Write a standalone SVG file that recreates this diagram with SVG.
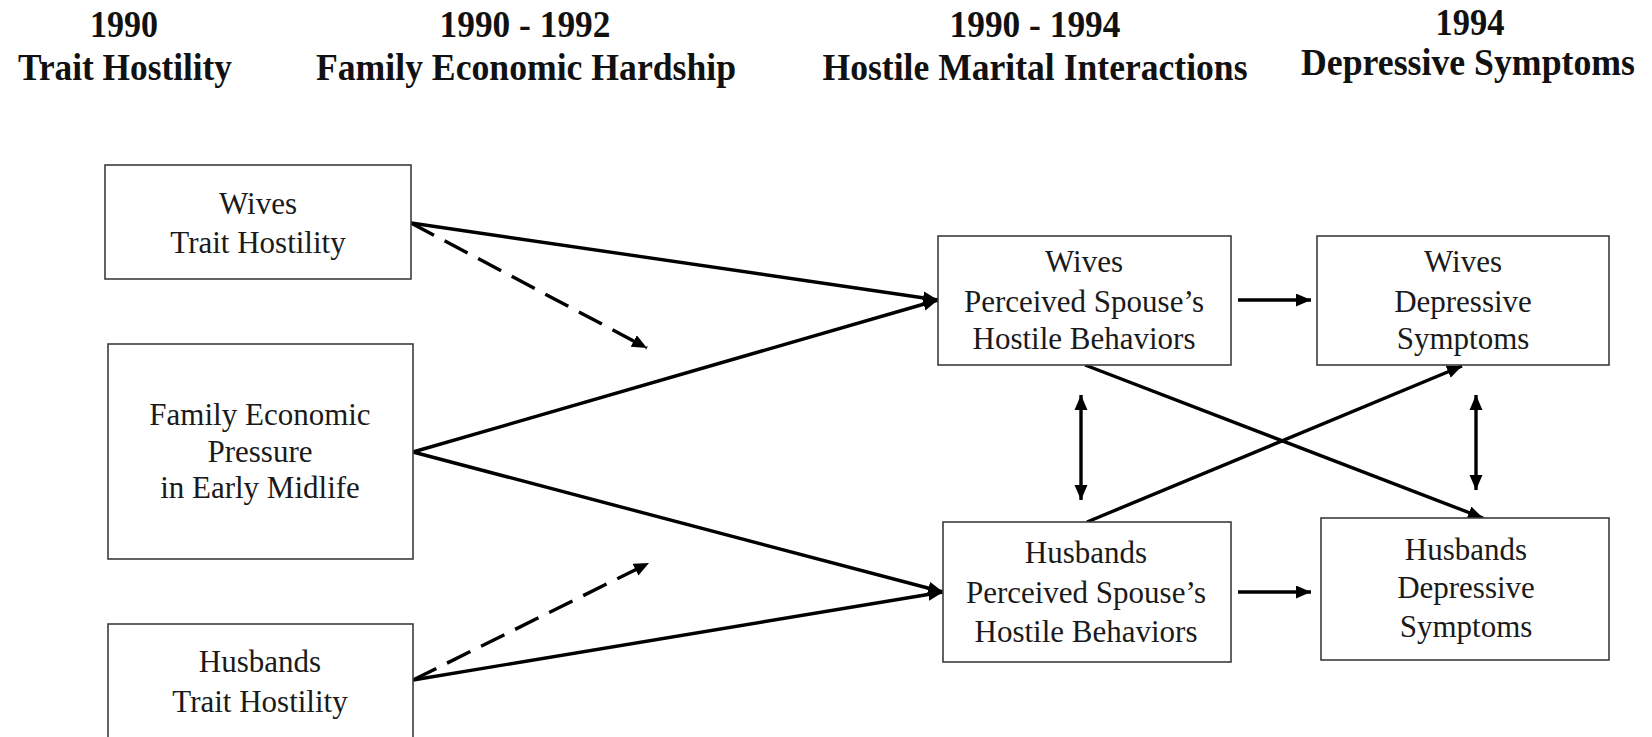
<svg xmlns="http://www.w3.org/2000/svg" width="1652" height="737" viewBox="0 0 1652 737">
  <style>
    .hdr { font-family: "Liberation Serif", "Times New Roman", serif; font-weight: bold; font-size: 37px; fill: #111; text-anchor: middle; }
    .lbl { font-family: "Liberation Serif", "Times New Roman", serif; font-size: 31px; fill: #1a1a1a; text-anchor: middle; }
    .box { fill: #fff; stroke: #3c3c3c; stroke-width: 1.6; }
    .path { fill: none; stroke: #000; stroke-width: 3.4; }
    .dash { fill: none; stroke: #000; stroke-width: 3.4; stroke-dasharray: 26 12; }
  </style>
  <defs>
    <marker id="head" markerUnits="userSpaceOnUse" markerWidth="17" markerHeight="14" refX="15" refY="6.5" orient="auto">
      <path d="M0,0 L15,6.5 L0,13 Z" fill="#000"/>
    </marker>
    <marker id="tail" markerUnits="userSpaceOnUse" markerWidth="17" markerHeight="14" refX="0" refY="6.5" orient="auto">
      <path d="M15,0 L0,6.5 L15,13 Z" fill="#000"/>
    </marker>
  </defs>
  <rect width="1652" height="737" fill="#fff"/>

  <!-- time-period headers -->
  <g id="headers">
    <text class="hdr" x="124" y="37" textLength="68" lengthAdjust="spacingAndGlyphs">1990</text>
    <text class="hdr" x="125" y="80" textLength="214" lengthAdjust="spacingAndGlyphs">Trait Hostility</text>
    <text class="hdr" x="525" y="37" textLength="171" lengthAdjust="spacingAndGlyphs">1990 - 1992</text>
    <text class="hdr" x="526" y="80" textLength="420" lengthAdjust="spacingAndGlyphs">Family Economic Hardship</text>
    <text class="hdr" x="1035" y="37" textLength="171" lengthAdjust="spacingAndGlyphs">1990 - 1994</text>
    <text class="hdr" x="1035" y="80" textLength="425" lengthAdjust="spacingAndGlyphs">Hostile Marital Interactions</text>
    <text class="hdr" x="1470" y="35" textLength="69" lengthAdjust="spacingAndGlyphs">1994</text>
    <text class="hdr" x="1468" y="75" textLength="334" lengthAdjust="spacingAndGlyphs">Depressive Symptoms</text>
  </g>

  <!-- connectors -->
  <g id="connectors">
    <line class="path" x1="411" y1="223" x2="938" y2="300" marker-end="url(#head)"/>
    <line class="path" x1="413" y1="452" x2="938" y2="300" marker-end="url(#head)"/>
    <line class="path" x1="413" y1="452" x2="943" y2="592" marker-end="url(#head)"/>
    <line class="path" x1="413" y1="680" x2="943" y2="592" marker-end="url(#head)"/>
    <line class="dash" x1="411" y1="223" x2="647" y2="348" marker-end="url(#head)"/>
    <line class="dash" x1="413" y1="680" x2="649" y2="563" marker-end="url(#head)"/>
    <line class="path" x1="1238" y1="300" x2="1311" y2="300" marker-end="url(#head)"/>
    <line class="path" x1="1238" y1="592" x2="1311" y2="592" marker-end="url(#head)"/>
    <line class="path" x1="1085" y1="365" x2="1483" y2="518" marker-end="url(#head)"/>
    <line class="path" x1="1087" y1="522" x2="1462" y2="366" marker-end="url(#head)"/>
    <line class="path" x1="1081" y1="395" x2="1081" y2="500" marker-start="url(#tail)" marker-end="url(#head)"/>
    <line class="path" x1="1476" y1="395" x2="1476" y2="490" marker-start="url(#tail)" marker-end="url(#head)"/>
  </g>

  <!-- nodes -->
  <g id="wives-trait">
    <rect class="box" x="105" y="165" width="306" height="114"/>
    <text class="lbl" x="258" y="214">Wives</text>
    <text class="lbl" x="258" y="253">Trait Hostility</text>
  </g>
  <g id="family-pressure">
    <rect class="box" x="108" y="344" width="305" height="215"/>
    <text class="lbl" x="260" y="425">Family Economic</text>
    <text class="lbl" x="260" y="462">Pressure</text>
    <text class="lbl" x="260" y="498">in Early Midlife</text>
  </g>
  <g id="husbands-trait">
    <rect class="box" x="108" y="624" width="305" height="120"/>
    <text class="lbl" x="260" y="672">Husbands</text>
    <text class="lbl" x="260" y="712">Trait Hostility</text>
  </g>
  <g id="wives-perceived">
    <rect class="box" x="938" y="236" width="293" height="129"/>
    <text class="lbl" x="1084" y="272">Wives</text>
    <text class="lbl" x="1084" y="312">Perceived Spouse’s</text>
    <text class="lbl" x="1084" y="349">Hostile Behaviors</text>
  </g>
  <g id="wives-depressive">
    <rect class="box" x="1317" y="236" width="292" height="129"/>
    <text class="lbl" x="1463" y="272">Wives</text>
    <text class="lbl" x="1463" y="312">Depressive</text>
    <text class="lbl" x="1463" y="349">Symptoms</text>
  </g>
  <g id="husbands-perceived">
    <rect class="box" x="943" y="522" width="288" height="140"/>
    <text class="lbl" x="1086" y="563">Husbands</text>
    <text class="lbl" x="1086" y="603">Perceived Spouse’s</text>
    <text class="lbl" x="1086" y="642">Hostile Behaviors</text>
  </g>
  <g id="husbands-depressive">
    <rect class="box" x="1321" y="518" width="288" height="142"/>
    <text class="lbl" x="1466" y="560">Husbands</text>
    <text class="lbl" x="1466" y="598">Depressive</text>
    <text class="lbl" x="1466" y="637">Symptoms</text>
  </g>
</svg>
